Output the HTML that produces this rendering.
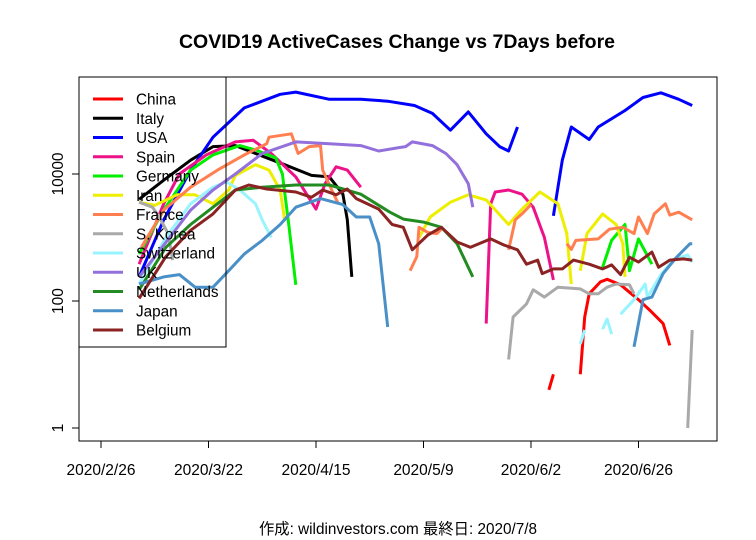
<!DOCTYPE html>
<html><head><meta charset="utf-8"><style>
body{margin:0;background:#fff;}
svg{display:block;font-family:"Liberation Sans","Noto Sans CJK JP",sans-serif;}
</style></head><body>
<svg id="chart" width="756" height="540">
<text x="397" y="48" text-anchor="middle" font-size="19.5" font-weight="bold">COVID19 ActiveCases Change vs 7Days before</text>
<rect x="79" y="77" width="638" height="364" fill="none" stroke="#000"/>
<g id="axes"></g>
<g id="series"></g>
<g id="legend"></g>
<text x="398" y="534" text-anchor="middle" font-size="15.3">作成: wildinvestors.com 最終日: 2020/7/8</text>
</svg>
<script>
const xTickDays=[0,24,48,72,96,120];
const xTickLabels=["2020/2/26","2020/3/22","2020/4/15","2020/5/9","2020/6/2","2020/6/26"];
const yTickValues=[1,100,10000];
const seriesNames=["China","Italy","USA","Spain","Germany","Iran","France","S. Korea","Switzerland","UK","Netherlands","Japan","Belgium"];
const seriesColors=["#ff0000","#000000","#0000ff","#ee1289","#00ee00","#eeee00","#ff7f50","#a9a9a9","#98f5ff","#9370db","#228b22","#4a90c8","#8b2323"];
// [day, value]; null = gap
const china=[[100,4],[101,7],null,[107,7],[108,56],[109,130],[111.5,200],[113,220],[116,180],[120,105],[122.5,72],[125.5,44],[127,20]];
const italy=[[8.5,4000],[14,8000],[20,16500],[25,27000],[30,28000],[37,18000],[41,14000],[47,9500],[51,9000],[54,4800],[55,1900],[56,240]];
const usa=[[8.5,240],[14,1900],[20,11500],[25,38000],[32,110000],[40,180000],[43.5,195000],[51,150000],[58,150000],[64,140000],[70,120000],[74,90000],[78,49000],[82,95000],[86,43000],[89,27000],[91,23000],[93,55000],null,[101,2200],[103,16500],[105,55000],[109,35000],[111,55000],[117,100000],[121,160000],[125,190000],[129,150000],[132,120000]];
const spain=[[8.5,380],[14,3400],[17.5,10000],[23.5,20000],[30,32000],[34,34000],[38,21000],[43.5,9000],[48,2800],[50,7000],[52.5,13000],[55,11500],[58,6200],null,[86,44],[87,3400],[88,5200],[91,5600],[94,4800],[96.5,3000],[99,1000],[101,215]];
const germany=[[8.5,550],[14,2700],[20,11500],[25,20000],[31,28000],[34.5,24000],[39,18000],[40.5,10000],[42,1450],[43.5,180],null,[112,340],[114,900],[117,1600],[118,300],[120,950],[123,380]];
const iran=[[8.5,3600],[12,3200],[17,4700],[21,4700],[25,3400],[28.5,5600],[30,9500],[34.5,14000],[37.5,11500],[40,5600],[41,1900],null,[71,1000],[73.5,2100],[78,3600],[82,4700],[86,3900],[91,1600],[94,2800],[98,5200],[102,3400],[104,1150],[105,185],null,[107,300],[108.5,1150],[112,2350],[115,1600],[116.5,800],[117,240]];
const france=[[9,700],[14,2700],[20,6200],[26,11500],[32,20000],[37,30000],[37.5,38000],[42.5,43000],[44,21000],[46.5,27000],[49,28000],[49.5,11500],[51.5,5600],[53,3400],null,[69,300],[70.5,500],[71,1450],[73,1200],[75,1150],[76,1350],null,[91,640],[92.5,1900],[94,2350],[96,3300],null,[104,800],[105,650],[106,900],[111,950],[113.5,1350],[116.5,1450],[119,1150],[120,2100],[122,1150],[123.5,2350],[126,3400],[127,2250],[129,2500],[132,1900]];
const skorea=[[8.5,3600],[11.5,3000],[13,2100],[15,1150],[16,440],null,[91,12],[92,56],[95,90],[96.5,150],[99,115],[102,165],[107,155],[109,130],[111,130],[113,165],[115,185],[118,180],[119,130],null,[131,1],[132,35]];
const switzerland=[[8.5,185],[14.5,1000],[20,3400],[25,6200],[28,7500],[31,5600],[34.5,3400],[36,1900],[38,1000],null,[107,21],[108,35],null,[112,36],[113,52],[114,30],null,[116,62],[119,105],[121.5,185],[122,115],[125,260],[128,460],[131,530],[132,410]];
const uk=[[8.5,240],[16,1150],[20,2700],[25,5600],[30,10000],[36,21000],[43.5,32000],[51,30000],[58,28000],[62,23000],[66.5,26000],[68,27000],[69.5,32000],[74,28000],[77,21000],[79.5,14000],[82,7000],[83,3000]];
const netherlands=[[8.5,150],[14.5,700],[20,1600],[25,3000],[30,5600],[36,6200],[43.5,6700],[51,6700],[58,4800],[64.5,2500],[67.5,1950],[72,1750],[76,1450],[79.5,800],[83,240]];
const japan=[[8.5,185],[14,240],[17.5,260],[21,165],[25,165],[28.5,300],[32,550],[36,900],[40,1600],[43.5,3000],[49,4100],[54,3300],[57,2100],[60,2100],[62,800],[64,39],null,[119,19],[121,105],[123,115],[125.5,270],[128.5,490],[131.5,800],[132,800]];
const belgium=[[8.5,110],[14.5,500],[20,1300],[25,2350],[30,5600],[33,6700],[37,5800],[43.5,5200],[47,4300],[49.5,5600],[52.5,4700],[55,5800],[57,4100],[62,2800],[65,1600],[67.5,1450],[69.5,640],[73,1100],[76,1450],[79.5,850],[82.5,700],[87,950],[90,760],[93,640],[95,380],[97.5,440],[98.5,270],[101,320],[103,320],[105.5,440],[109,380],[112,320],[114,370],[116,260],[118,490],[120,410],[123,590],[124.5,340],[127,440],[130,460],[132,440]];
const seriesData=[china,italy,usa,spain,germany,iran,france,skorea,switzerland,uk,netherlands,japan,belgium];

const NS="http://www.w3.org/2000/svg";
function xs(d){return 101+d*4.479;}
function ys(v){return 428-63.5*Math.log10(v);}
function mk(tag,attrs,parent){const e=document.createElementNS(NS,tag);for(const k in attrs)e.setAttribute(k,attrs[k]);parent.appendChild(e);return e;}
const axes=document.getElementById('axes');
let l=mk('line',{x1:xs(xTickDays[0]),x2:xs(xTickDays[xTickDays.length-1]),y1:441,y2:441,stroke:'#000'},axes);


xTickDays.forEach((d,i)=>{
 const t=mk('line',{x1:xs(d),x2:xs(d),y1:441,y2:448,stroke:'#000'},axes);
 
 
 const tx=mk('text',{x:xs(d),y:475,'text-anchor':'middle','font-size':15.5},axes);
 tx.textContent=xTickLabels[i];
 
 
});
l=mk('line',{x1:79,x2:79,y1:ys(yTickValues[0]),y2:ys(yTickValues[yTickValues.length-1]),stroke:'#000'},axes);


yTickValues.forEach(v=>{
 const y=ys(v);
 const t=mk('line',{x1:72,x2:79,y1:y,y2:y,stroke:'#000'},axes);
 
 
 const tx=mk('text',{x:0,y:0,'text-anchor':'middle','font-size':15.5,transform:`translate(63,${y}) rotate(-90)`},axes);
 tx.textContent=String(v);
 
 
});
const sg=document.getElementById('series');
seriesData.forEach((arr,i)=>{
 let d='',pen=false;
 arr.forEach(p=>{ if(p===null){pen=false;return;} d+=(pen?'L':'M')+xs(p[0]).toFixed(1)+' '+ys(p[1]).toFixed(1)+' '; pen=true;});
 const path=mk('path',{d:d,fill:'none',stroke:seriesColors[i],'stroke-width':3,'stroke-linejoin':'round'},sg);
 
 
});
const lg=document.getElementById('legend');
const box=mk('rect',{x:79,y:77,width:147,height:270,fill:'none',stroke:'#000'},lg);


seriesNames.forEach((n,i)=>{
 const y=99+i*19.25;
 const g=mk('g',{},lg);
 
 
 mk('line',{x1:93,x2:123,y1:y,y2:y,stroke:seriesColors[i],'stroke-width':3},g);
 const t=mk('text',{x:136,y:y+5.5,'font-size':15.3},g);
 t.textContent=n;
});
</script>
</body></html>
